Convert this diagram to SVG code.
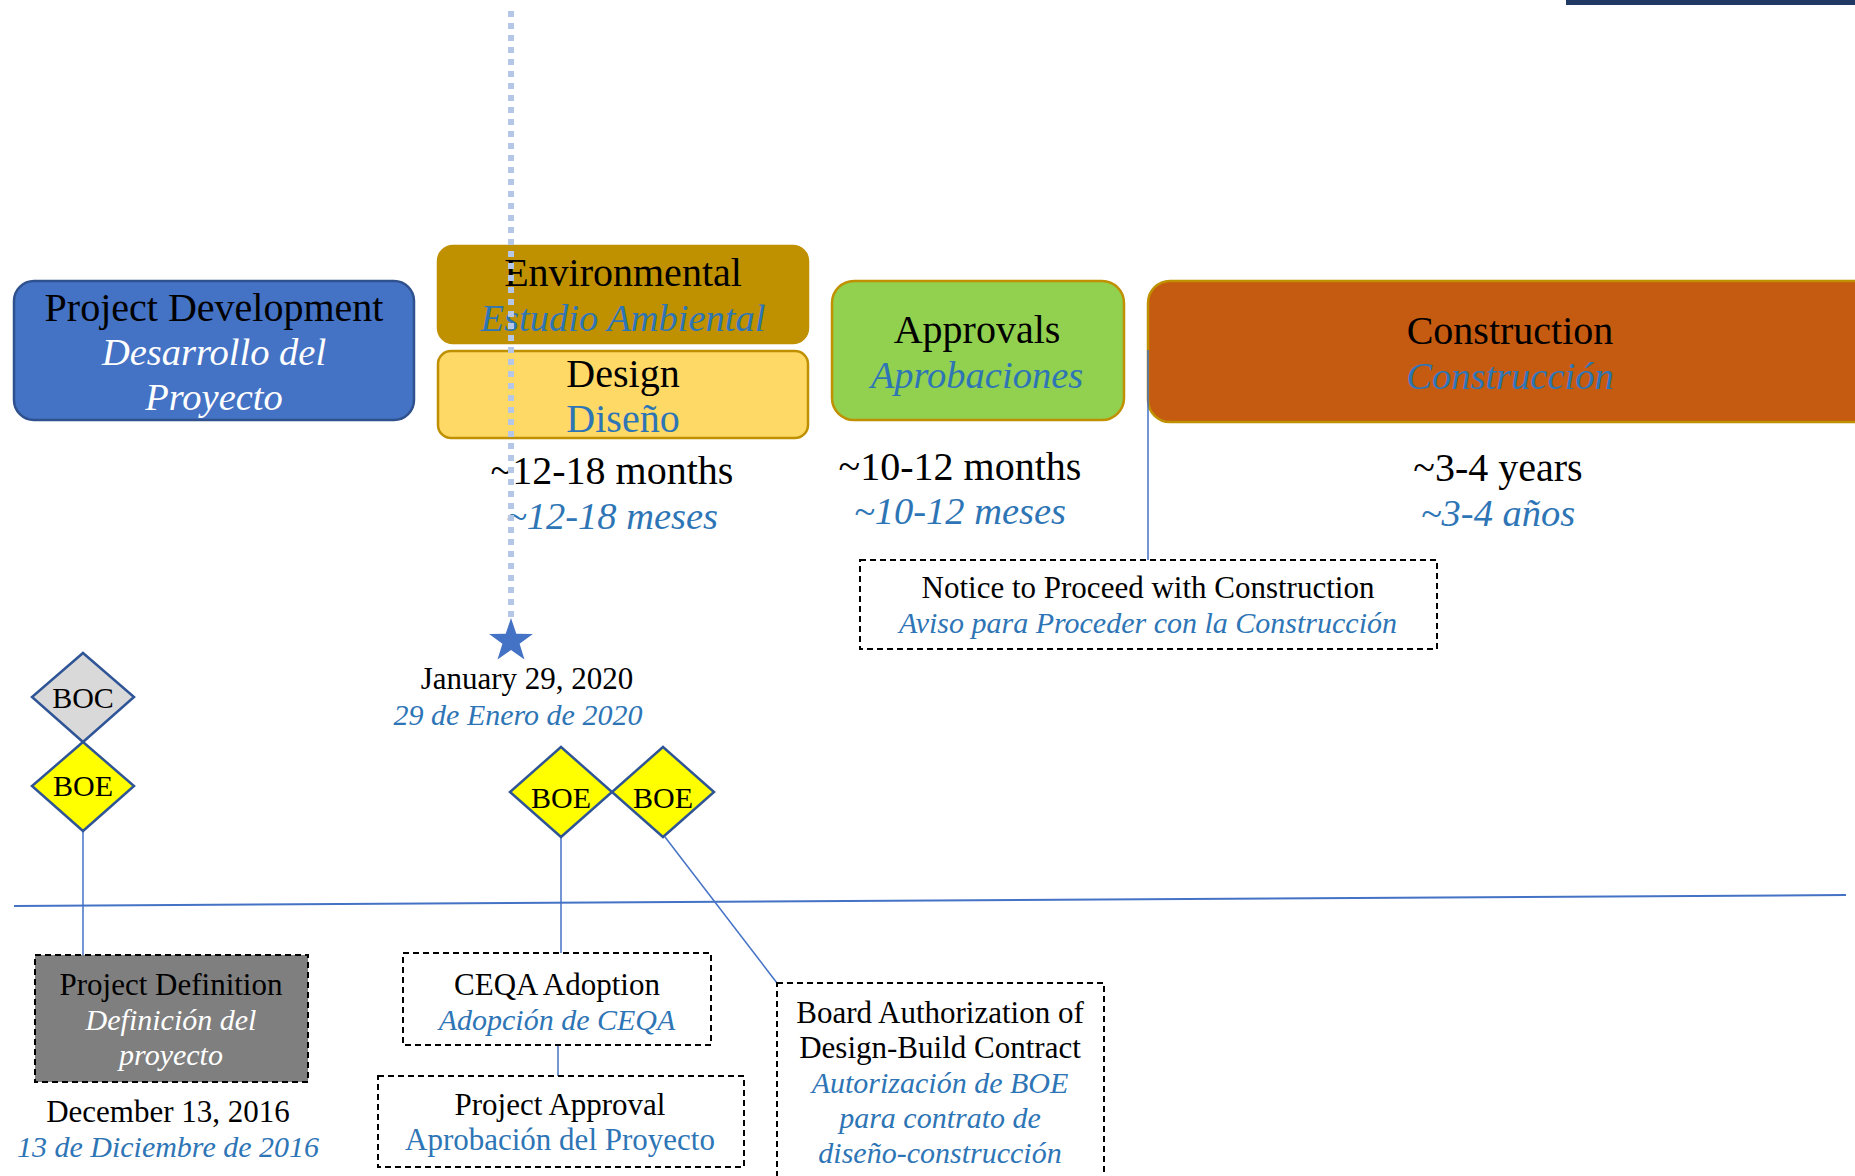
<svg xmlns="http://www.w3.org/2000/svg" width="1855" height="1176" viewBox="0 0 1855 1176">
<style>
text{font-family:"Liberation Serif","Times New Roman",serif;text-anchor:middle}
.big{font-size:40px}
.big.i{font-size:38.5px}
.sm{font-size:31px}
.sm.i{font-size:30px}
.dt{font-size:30px}
.k{fill:#000}
.b{fill:#2E75B6}
.w{fill:#fff}
.i{font-style:italic}
.dash{fill:none;stroke:#000;stroke-width:2;stroke-dasharray:6 4}
.conn{stroke:#4472C4;stroke-width:1.5;fill:none}
.dia{stroke:#2F5597;stroke-width:2.5}
</style>
<rect x="1566" y="0" width="289" height="5" fill="#1F3864"/>

<g id="project-development">
<rect x="14" y="281" width="400" height="139" rx="20" fill="#4472C4" stroke="#2F528F" stroke-width="2.5"/>
<text class="big k" x="214" y="321">Project Development</text>
<text class="big w i" x="214" y="365">Desarrollo del</text>
<text class="big w i" x="214" y="410">Proyecto</text>
</g>
<g id="environmental">
<rect x="438" y="246" width="370" height="97" rx="15" fill="#BF9000" stroke="#BF9000" stroke-width="2.5"/>
<text class="big k" x="623" y="286">Environmental</text>
<text class="big b i" x="623" y="331">Estudio Ambiental</text>
</g>
<g id="design">
<rect x="438" y="351" width="370" height="87" rx="13" fill="#FFD966" stroke="#BF9000" stroke-width="2.5"/>
<text class="big k" x="623" y="387">Design</text>
<text class="big b" x="623" y="432">Diseño</text>
</g>
<g id="duration-design">
<text class="big k" x="612" y="484">~12-18 months</text>
<text class="big b i" x="612" y="529">~12-18 meses</text>
</g>
<g id="approvals">
<rect x="832" y="281" width="292" height="139" rx="22" fill="#92D050" stroke="#C09000" stroke-width="2.5"/>
<text class="big k" x="977" y="343">Approvals</text>
<text class="big b i" x="977" y="388">Aprobaciones</text>
</g>
<g id="construction">
<rect x="1148" y="281" width="740" height="141" rx="22" fill="#C55A11" stroke="#BF9000" stroke-width="2.5"/>
<text class="big k" x="1510" y="344">Construction</text>
<text class="big b i" x="1510" y="389">Construcción</text>
</g>
<g id="duration-approvals">
<text class="big k" x="960" y="480">~10-12 months</text>
<text class="big b i" x="960" y="524">~10-12 meses</text>
</g>
<g id="duration-construction">
<text class="big k" x="1498" y="481">~3-4 years</text>
<text class="big b i" x="1498" y="526">~3-4 años</text>
</g>
<g id="notice">
<rect class="dash" x="860" y="560" width="577" height="89"/>
<text class="sm k" x="1148" y="598">Notice to Proceed with Construction</text>
<text class="sm b i" x="1148" y="633">Aviso para Proceder con la Construcción</text>
</g>

<g id="connectors">
<line x1="14" y1="906" x2="1846" y2="895" stroke="#4472C4" stroke-width="2"/>
<line class="conn" x1="1148" y1="350" x2="1148" y2="560"/>
<line class="conn" x1="83" y1="831" x2="83" y2="955"/>
<line class="conn" x1="561" y1="837" x2="561" y2="953"/>
<line class="conn" x1="558" y1="1045" x2="558" y2="1076"/>
<line class="conn" x1="665" y1="837" x2="777" y2="983"/>
</g>

<g id="boc">
<polygon class="dia" points="83,653 134,697 83,742 32,697" fill="#D9D9D9"/>
<text class="dt k" x="83" y="708">BOC</text>
</g>
<g id="boe-1">
<polygon class="dia" points="83,742 134,786 83,831 32,786" fill="#FFFF00"/>
<text class="dt k" x="83" y="796">BOE</text>
</g>
<g id="boe-2">
<polygon class="dia" points="561,747 612,792 561,837 510,792" fill="#FFFF00"/>
<text class="dt k" x="561" y="808">BOE</text>
</g>
<g id="boe-3">
<polygon class="dia" points="663,747 714,792 663,837 612,792" fill="#FFFF00"/>
<text class="dt k" x="663" y="808">BOE</text>
</g>

<g id="milestone-star">
<line x1="511" y1="11" x2="511" y2="620" stroke="#B4C7E7" stroke-width="6" stroke-dasharray="6 6"/>
<polygon points="511,618 516.3,633.7 532.9,633.9 519.6,643.8 524.5,659.6 511,650 497.5,659.6 502.4,643.8 489.1,633.9 505.7,633.7" fill="#4472C4"/>
<text class="sm k" x="527" y="689">January 29, 2020</text>
<text class="sm b i" x="518" y="725">29 de Enero de 2020</text>
</g>

<g id="project-definition">
<rect class="dash" x="35" y="955" width="273" height="127" style="fill:#7F7F7F"/>
<text class="sm k" x="171" y="995">Project Definition</text>
<text class="sm w i" x="171" y="1030">Definición del</text>
<text class="sm w i" x="171" y="1065">proyecto</text>
</g>
<g id="date-2016">
<text class="sm k" x="168" y="1122">December 13, 2016</text>
<text class="sm b i" x="168" y="1157">13 de Diciembre de 2016</text>
</g>
<g id="ceqa">
<rect class="dash" x="403" y="953" width="308" height="92"/>
<text class="sm k" x="557" y="995">CEQA Adoption</text>
<text class="sm b i" x="557" y="1030">Adopción de CEQA</text>
</g>
<g id="project-approval">
<rect class="dash" x="378" y="1076" width="366" height="91"/>
<text class="sm k" x="560" y="1115">Project Approval</text>
<text class="sm b" x="560" y="1150">Aprobación del Proyecto</text>
</g>
<g id="board-authorization">
<rect class="dash" x="777" y="983" width="327" height="220"/>
<text class="sm k" x="940" y="1023">Board Authorization of</text>
<text class="sm k" x="940" y="1058">Design-Build Contract</text>
<text class="sm b i" x="940" y="1093">Autorización de BOE</text>
<text class="sm b i" x="940" y="1128">para contrato de</text>
<text class="sm b i" x="940" y="1163">diseño-construcción</text>
</g>
</svg>
